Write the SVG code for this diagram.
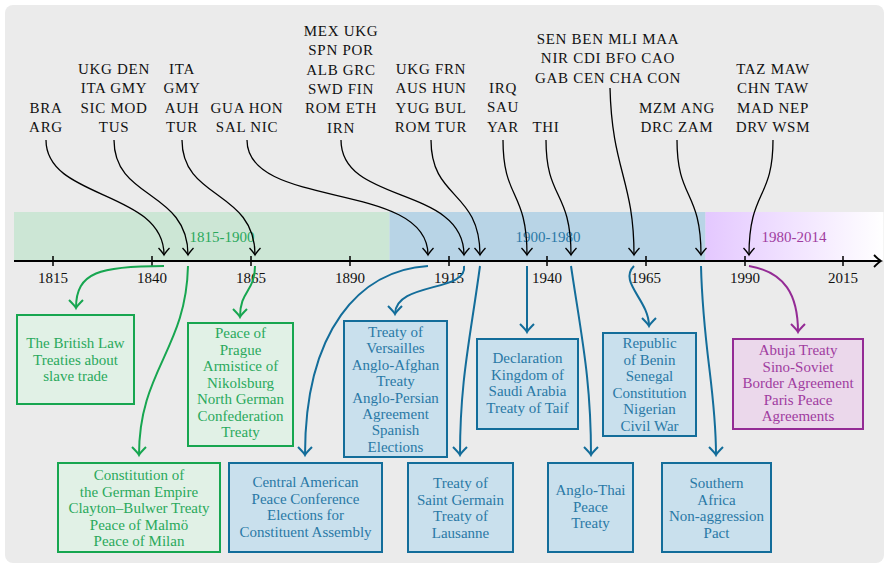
<svg xmlns="http://www.w3.org/2000/svg" width="887" height="565" viewBox="0 0 887 565" font-family="'Liberation Serif', serif">
<defs>
<linearGradient id="pg" x1="0" y1="0" x2="1" y2="0">
<stop offset="0" stop-color="#e4c8ff"/>
<stop offset="1" stop-color="#ffffff"/>
</linearGradient>
<marker id="ak" markerUnits="userSpaceOnUse" markerWidth="16" markerHeight="16" viewBox="-10 -8 12 16" refX="0" refY="0" orient="auto">
<path d="M-7,-5.5 Q-2,-1 0,0 Q-2,1 -7,5.5" fill="none" stroke="#000" stroke-width="1.3"/>
</marker>
<marker id="ag" markerUnits="userSpaceOnUse" markerWidth="16" markerHeight="18" viewBox="-10 -9 12 18" refX="0" refY="0" orient="auto">
<path d="M-8,-7 Q-2,-1 0,0 Q-2,1 -8,7" fill="none" stroke="#17a650" stroke-width="2"/>
</marker>
<marker id="ab" markerUnits="userSpaceOnUse" markerWidth="16" markerHeight="18" viewBox="-10 -9 12 18" refX="0" refY="0" orient="auto">
<path d="M-8,-7 Q-2,-1 0,0 Q-2,1 -8,7" fill="none" stroke="#136d9a" stroke-width="2"/>
</marker>
<marker id="ap" markerUnits="userSpaceOnUse" markerWidth="16" markerHeight="18" viewBox="-10 -9 12 18" refX="0" refY="0" orient="auto">
<path d="M-8,-7 Q-2,-1 0,0 Q-2,1 -8,7" fill="none" stroke="#942b95" stroke-width="2"/>
</marker>
<marker id="ax" markerUnits="userSpaceOnUse" markerWidth="16" markerHeight="18" viewBox="-10 -9 12 18" refX="0" refY="0" orient="auto">
<path d="M-7,-6 Q-2,-1 0,0 Q-2,1 -7,6" fill="none" stroke="#000" stroke-width="1.8"/>
</marker>
</defs>
<style>
text{font-family:'Liberation Serif',serif;font-size:15px;text-anchor:middle}
.lbl{fill:#111;letter-spacing:0.7px}
.tk{fill:#111;font-size:15px}
.g{fill:#2aa95c}
.b{fill:#2a79a6}
.p{fill:#a03ca0}
.bx-g{fill:#e1f1e6;stroke:#17a650;stroke-width:2}
.bx-b{fill:#c9e0ed;stroke:#136d9a;stroke-width:2}
.bx-p{fill:#ebd8eb;stroke:#942b95;stroke-width:2}
.ck{fill:none;stroke:#000;stroke-width:1.3;marker-end:url(#ak)}
.cg{fill:none;stroke:#17a650;stroke-width:2;marker-end:url(#ag)}
.cb{fill:none;stroke:#136d9a;stroke-width:2;marker-end:url(#ab)}
.cp{fill:none;stroke:#942b95;stroke-width:2;marker-end:url(#ap)}
</style>
<rect x="5" y="5" width="879" height="558" rx="8" fill="#ebebeb"/>
<g id="bands">
<rect x="14" y="212" width="375.5" height="49" fill="#cce6d5"/>
<rect x="389.5" y="212" width="316" height="49" fill="#b8d4e6"/>
<rect x="705.5" y="212" width="178" height="49" fill="url(#pg)"/>
<text x="222" y="242" class="g">1815-1900</text>
<text x="548" y="242" class="b">1900-1980</text>
<text x="794" y="242" class="p">1980-2014</text>
</g>
<g id="axis">
<path d="M14,261 H881" stroke="#000" stroke-width="1.8" fill="none" marker-end="url(#ax)"/>
<path d="M53,256V266M152,256V266M251,256V266M350,256V266M449,256V266M547,256V266M646,256V266M745,256V266M843,256V266" stroke="#000" stroke-width="1.5"/>
<text x="53" y="283" class="tk">1815</text>
<text x="152" y="283" class="tk">1840</text>
<text x="251" y="283" class="tk">1865</text>
<text x="350" y="283" class="tk">1890</text>
<text x="449" y="283" class="tk">1915</text>
<text x="547" y="283" class="tk">1940</text>
<text x="646" y="283" class="tk">1965</text>
<text x="745" y="283" class="tk">1990</text>
<text x="843" y="283" class="tk">2015</text>
</g>
<g id="labels">
<g id="l-bra"><text x="46" y="113" class="lbl"><tspan x="46">BRA</tspan><tspan x="46" dy="19.3">ARG</tspan></text></g>
<g id="l-ukg"><text x="114" y="74" class="lbl"><tspan x="114">UKG DEN</tspan><tspan x="114" dy="19.3">ITA GMY</tspan><tspan x="114" dy="19.3">SIC MOD</tspan><tspan x="114" dy="19.3">TUS</tspan></text></g>
<g id="l-ita"><text x="182" y="74" class="lbl"><tspan x="182">ITA</tspan><tspan x="182" dy="19.3">GMY</tspan><tspan x="182" dy="19.3">AUH</tspan><tspan x="182" dy="19.3">TUR</tspan></text></g>
<g id="l-gua"><text x="247" y="113" class="lbl"><tspan x="247">GUA HON</tspan><tspan x="247" dy="19.3">SAL NIC</tspan></text></g>
<g id="l-mex"><text x="341" y="36" class="lbl"><tspan x="341">MEX UKG</tspan><tspan x="341" dy="19.3">SPN POR</tspan><tspan x="341" dy="19.3">ALB GRC</tspan><tspan x="341" dy="19.3">SWD FIN</tspan><tspan x="341" dy="19.3">ROM ETH</tspan><tspan x="341" dy="19.3">IRN</tspan></text></g>
<g id="l-ukg2"><text x="431" y="74" class="lbl"><tspan x="431">UKG FRN</tspan><tspan x="431" dy="19.3">AUS HUN</tspan><tspan x="431" dy="19.3">YUG BUL</tspan><tspan x="431" dy="19.3">ROM TUR</tspan></text></g>
<g id="l-irq"><text x="503" y="93" class="lbl"><tspan x="503">IRQ</tspan><tspan x="503" dy="19.3">SAU</tspan><tspan x="503" dy="19.3">YAR</tspan></text></g>
<g id="l-thi"><text x="546" y="132" class="lbl">THI</text></g>
<g id="l-sen"><text x="608" y="44" class="lbl"><tspan x="608">SEN BEN MLI MAA</tspan><tspan x="608" dy="19.3">NIR CDI BFO CAO</tspan><tspan x="608" dy="19.3">GAB CEN CHA CON</tspan></text></g>
<g id="l-mzm"><text x="677" y="113" class="lbl"><tspan x="677">MZM ANG</tspan><tspan x="677" dy="19.3">DRC ZAM</tspan></text></g>
<g id="l-taz"><text x="773" y="74" class="lbl"><tspan x="773">TAZ MAW</tspan><tspan x="773" dy="19.3">CHN TAW</tspan><tspan x="773" dy="19.3">MAD NEP</tspan><tspan x="773" dy="19.3">DRV WSM</tspan></text></g>
</g>
<g id="connectors">
<path class="ck" d="M46,140 C46,200 164,190 164,255"/>
<path class="ck" d="M114,140 C114,200 188,190 188,255"/>
<path class="ck" d="M182,140 C182,200 255,190 255,255"/>
<path class="ck" d="M247,140 C247,210 428,180 428,255"/>
<path class="ck" d="M341,140 C341,205 464,185 464,255"/>
<path class="ck" d="M431,140 C431,200 480,190 480,255"/>
<path class="ck" d="M503,140 C503,200 527,190 527,255"/>
<path class="ck" d="M546,140 C546,200 571,190 571,255"/>
<path class="ck" d="M610,88 C612,170 634,180 634,255"/>
<path class="ck" d="M677,140 C677,200 701,190 701,255"/>
<path class="ck" d="M773,140 C773,200 749,190 749,255"/>
<path class="cg" d="M164,266 C100,266 76,272 76,308"/>
<path class="cg" d="M188,266 C186,350 139,370 139,455"/>
<path class="cg" d="M255,266 C255,292 240,290 240,317"/>
<path class="cb" d="M428,266 C360,270 305,330 305,455"/>
<path class="cb" d="M464,266 C468,292 395,282 395,314"/>
<path class="cb" d="M480,266 C470,340 460,380 460,455"/>
<path class="cb" d="M527,266 L527,332"/>
<path class="cb" d="M571,266 C582,340 591,380 591,455"/>
<path class="cb" d="M634,266 C618,282 649,300 649,326"/>
<path class="cb" d="M701,266 C703,350 716,390 716,455"/>
<path class="cp" d="M749,266 C785,272 798,295 798,332"/>
</g>
<g id="n-british">
<rect class="bx-g" x="17" y="315" width="117" height="89"/>
<text class="g" x="75.5" y="348"><tspan x="75.5">The British Law</tspan><tspan x="75.5" dy="16.5">Treaties about</tspan><tspan x="75.5" dy="16.5">slave trade</tspan></text>
</g>
<g id="n-prague">
<rect class="bx-g" x="188" y="323" width="105" height="123"/>
<text class="g" x="240.5" y="338"><tspan x="240.5">Peace of</tspan><tspan x="240.5" dy="16.5">Prague</tspan><tspan x="240.5" dy="16.5">Armistice of</tspan><tspan x="240.5" dy="16.5">Nikolsburg</tspan><tspan x="240.5" dy="16.5">North German</tspan><tspan x="240.5" dy="16.5">Confederation</tspan><tspan x="240.5" dy="16.5">Treaty</tspan></text>
</g>
<g id="n-german">
<rect class="bx-g" x="58" y="463" width="162" height="89"/>
<text class="g" x="139" y="480"><tspan x="139">Constitution of</tspan><tspan x="139" dy="16.5">the German Empire</tspan><tspan x="139" dy="16.5">Clayton–Bulwer Treaty</tspan><tspan x="139" dy="16.5">Peace of Malmö</tspan><tspan x="139" dy="16.5">Peace of Milan</tspan></text>
</g>
<g id="n-central">
<rect class="bx-b" x="229" y="463" width="153" height="89"/>
<text class="b" x="305.5" y="487"><tspan x="305.5">Central American</tspan><tspan x="305.5" dy="16.5">Peace Conference</tspan><tspan x="305.5" dy="16.5">Elections for</tspan><tspan x="305.5" dy="16.5">Constituent Assembly</tspan></text>
</g>
<g id="n-versailles">
<rect class="bx-b" x="344" y="321" width="103" height="136"/>
<text class="b" x="395.5" y="337"><tspan x="395.5">Treaty of</tspan><tspan x="395.5" dy="16.4">Versailles</tspan><tspan x="395.5" dy="16.4">Anglo-Afghan</tspan><tspan x="395.5" dy="16.4">Treaty</tspan><tspan x="395.5" dy="16.4">Anglo-Persian</tspan><tspan x="395.5" dy="16.4">Agreement</tspan><tspan x="395.5" dy="16.4">Spanish</tspan><tspan x="395.5" dy="16.4">Elections</tspan></text>
</g>
<g id="n-germain">
<rect class="bx-b" x="408" y="463" width="105" height="89"/>
<text class="b" x="460.5" y="488"><tspan x="460.5">Treaty of</tspan><tspan x="460.5" dy="16.5">Saint Germain</tspan><tspan x="460.5" dy="16.5">Treaty of</tspan><tspan x="460.5" dy="16.5">Lausanne</tspan></text>
</g>
<g id="n-declaration">
<rect class="bx-b" x="477" y="339" width="101" height="90"/>
<text class="b" x="527.5" y="363"><tspan x="527.5">Declaration</tspan><tspan x="527.5" dy="16.5">Kingdom of</tspan><tspan x="527.5" dy="16.5">Saudi Arabia</tspan><tspan x="527.5" dy="16.5">Treaty of Taif</tspan></text>
</g>
<g id="n-anglothai">
<rect class="bx-b" x="548" y="463" width="85" height="89"/>
<text class="b" x="590.5" y="495"><tspan x="590.5">Anglo-Thai</tspan><tspan x="590.5" dy="16.5">Peace</tspan><tspan x="590.5" dy="16.5">Treaty</tspan></text>
</g>
<g id="n-benin">
<rect class="bx-b" x="603" y="333" width="93" height="103"/>
<text class="b" x="649.5" y="348"><tspan x="649.5">Republic</tspan><tspan x="649.5" dy="16.5">of Benin</tspan><tspan x="649.5" dy="16.5">Senegal</tspan><tspan x="649.5" dy="16.5">Constitution</tspan><tspan x="649.5" dy="16.5">Nigerian</tspan><tspan x="649.5" dy="16.5">Civil War</tspan></text>
</g>
<g id="n-southern">
<rect class="bx-b" x="662" y="463" width="109" height="89"/>
<text class="b" x="716.5" y="488"><tspan x="716.5">Southern</tspan><tspan x="716.5" dy="16.5">Africa</tspan><tspan x="716.5" dy="16.5">Non-aggression</tspan><tspan x="716.5" dy="16.5">Pact</tspan></text>
</g>
<g id="n-abuja">
<rect class="bx-p" x="733" y="339" width="130" height="90"/>
<text class="p" x="798" y="355"><tspan x="798">Abuja Treaty</tspan><tspan x="798" dy="16.5">Sino-Soviet</tspan><tspan x="798" dy="16.5">Border Agreement</tspan><tspan x="798" dy="16.5">Paris Peace</tspan><tspan x="798" dy="16.5">Agreements</tspan></text>
</g>
</svg>
